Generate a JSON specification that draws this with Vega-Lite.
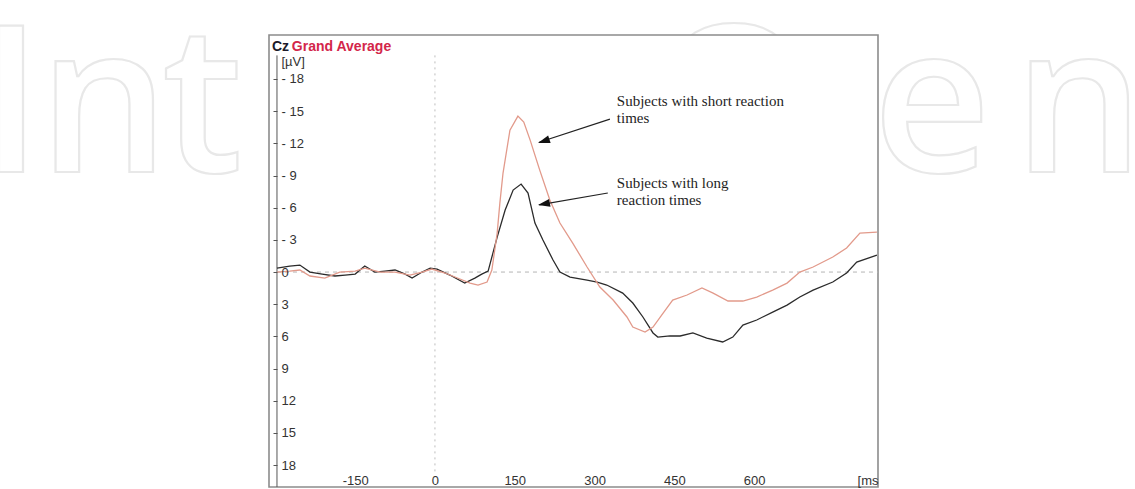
{
  "$schema": "https://vega.github.io/schema/vega-lite/v6.json",
  "width": 609,
  "height": 452,
  "autosize": {"type": "none"},
  "padding": {"left": 269, "top": 35, "right": 257, "bottom": 2},
  "background": "white",
  "config": {"view": {"stroke": null}, "font": "Liberation Sans"},
  "datasets": {
    "erp": [
      {"group": "long", "ms": -297, "uv": -0.37}, {"group": "long", "ms": -273, "uv": -0.56}, {"group": "long", "ms": -254, "uv": -0.65},
      {"group": "long", "ms": -235, "uv": 0}, {"group": "long", "ms": -212, "uv": 0.19}, {"group": "long", "ms": -188, "uv": 0.37},
      {"group": "long", "ms": -169, "uv": 0.28}, {"group": "long", "ms": -150, "uv": 0.19}, {"group": "long", "ms": -132, "uv": -0.56},
      {"group": "long", "ms": -113, "uv": 0}, {"group": "long", "ms": -94, "uv": -0.09}, {"group": "long", "ms": -75, "uv": -0.19},
      {"group": "long", "ms": -56, "uv": 0.19}, {"group": "long", "ms": -43, "uv": 0.56}, {"group": "long", "ms": -24, "uv": 0},
      {"group": "long", "ms": -9, "uv": -0.37}, {"group": "long", "ms": 4, "uv": -0.28}, {"group": "long", "ms": 28, "uv": 0.28},
      {"group": "long", "ms": 56, "uv": 1.03}, {"group": "long", "ms": 75, "uv": 0.56}, {"group": "long", "ms": 88, "uv": 0.19},
      {"group": "long", "ms": 100, "uv": -0.09}, {"group": "long", "ms": 117, "uv": -3.26}, {"group": "long", "ms": 132, "uv": -5.78},
      {"group": "long", "ms": 147, "uv": -7.64}, {"group": "long", "ms": 162, "uv": -8.2}, {"group": "long", "ms": 175, "uv": -7.36},
      {"group": "long", "ms": 188, "uv": -4.57}, {"group": "long", "ms": 203, "uv": -2.98}, {"group": "long", "ms": 222, "uv": -1.12},
      {"group": "long", "ms": 235, "uv": 0}, {"group": "long", "ms": 254, "uv": 0.47}, {"group": "long", "ms": 286, "uv": 0.75},
      {"group": "long", "ms": 305, "uv": 0.93}, {"group": "long", "ms": 323, "uv": 1.21}, {"group": "long", "ms": 353, "uv": 1.96},
      {"group": "long", "ms": 372, "uv": 2.89}, {"group": "long", "ms": 391, "uv": 4.19}, {"group": "long", "ms": 410, "uv": 5.68},
      {"group": "long", "ms": 419, "uv": 6.06}, {"group": "long", "ms": 442, "uv": 5.96}, {"group": "long", "ms": 461, "uv": 5.96},
      {"group": "long", "ms": 485, "uv": 5.68}, {"group": "long", "ms": 511, "uv": 6.15}, {"group": "long", "ms": 541, "uv": 6.52},
      {"group": "long", "ms": 560, "uv": 6.06}, {"group": "long", "ms": 579, "uv": 4.94}, {"group": "long", "ms": 605, "uv": 4.47},
      {"group": "long", "ms": 635, "uv": 3.73}, {"group": "long", "ms": 662, "uv": 3.08}, {"group": "long", "ms": 686, "uv": 2.33},
      {"group": "long", "ms": 711, "uv": 1.68}, {"group": "long", "ms": 748, "uv": 0.93}, {"group": "long", "ms": 774, "uv": 0.09},
      {"group": "long", "ms": 793, "uv": -0.93}, {"group": "long", "ms": 831, "uv": -1.58},
      {"group": "short", "ms": -297, "uv": 0}, {"group": "short", "ms": -273, "uv": -0.09}, {"group": "short", "ms": -254, "uv": -0.19},
      {"group": "short", "ms": -235, "uv": 0.37}, {"group": "short", "ms": -207, "uv": 0.56}, {"group": "short", "ms": -179, "uv": 0},
      {"group": "short", "ms": -150, "uv": -0.09}, {"group": "short", "ms": -132, "uv": -0.37}, {"group": "short", "ms": -103, "uv": 0},
      {"group": "short", "ms": -75, "uv": 0}, {"group": "short", "ms": -47, "uv": 0.28}, {"group": "short", "ms": -24, "uv": 0},
      {"group": "short", "ms": -6, "uv": -0.28}, {"group": "short", "ms": 19, "uv": 0.09}, {"group": "short", "ms": 47, "uv": 0.65},
      {"group": "short", "ms": 66, "uv": 1.03}, {"group": "short", "ms": 81, "uv": 1.21}, {"group": "short", "ms": 98, "uv": 0.93},
      {"group": "short", "ms": 107, "uv": -0.19}, {"group": "short", "ms": 117, "uv": -3.63}, {"group": "short", "ms": 122, "uv": -6.4},
      {"group": "short", "ms": 128, "uv": -9.23}, {"group": "short", "ms": 141, "uv": -13.23}, {"group": "short", "ms": 156, "uv": -14.54},
      {"group": "short", "ms": 167, "uv": -13.98}, {"group": "short", "ms": 179, "uv": -12.3}, {"group": "short", "ms": 197, "uv": -9.5},
      {"group": "short", "ms": 216, "uv": -6.71}, {"group": "short", "ms": 235, "uv": -4.57}, {"group": "short", "ms": 259, "uv": -2.7},
      {"group": "short", "ms": 286, "uv": -0.47}, {"group": "short", "ms": 310, "uv": 1.4}, {"group": "short", "ms": 335, "uv": 2.61},
      {"group": "short", "ms": 361, "uv": 4.19}, {"group": "short", "ms": 372, "uv": 5.13}, {"group": "short", "ms": 395, "uv": 5.59},
      {"group": "short", "ms": 410, "uv": 5.13}, {"group": "short", "ms": 429, "uv": 3.82}, {"group": "short", "ms": 447, "uv": 2.61},
      {"group": "short", "ms": 474, "uv": 2.14}, {"group": "short", "ms": 502, "uv": 1.49}, {"group": "short", "ms": 523, "uv": 1.96},
      {"group": "short", "ms": 551, "uv": 2.7}, {"group": "short", "ms": 579, "uv": 2.7}, {"group": "short", "ms": 605, "uv": 2.33},
      {"group": "short", "ms": 635, "uv": 1.68}, {"group": "short", "ms": 662, "uv": 1.03}, {"group": "short", "ms": 686, "uv": 0},
      {"group": "short", "ms": 711, "uv": -0.47}, {"group": "short", "ms": 748, "uv": -1.4}, {"group": "short", "ms": 774, "uv": -2.24},
      {"group": "short", "ms": 799, "uv": -3.63}, {"group": "short", "ms": 831, "uv": -3.73}
    ],
    "notes": [
      {"ms": 342, "uv": -15.94, "lines": ["Subjects with short reaction", "times"]},
      {"ms": 342, "uv": -8.3, "lines": ["Subjects with long", "reaction times"]}
    ],
    "arrows": [
      {"ms": 329, "uv": -14.26, "ms2": 196, "uv2": -12.1, "tipms": 193.7, "tipuv": -12.03, "angle": 252},
      {"ms": 325, "uv": -7.37, "ms2": 196, "uv2": -6.27, "tipms": 193.7, "tipuv": -6.25, "angle": 260}
    ],
    "watermark": [
      {"t": "I", "ms": -856, "uv": -9.32},
      {"t": "n", "ms": -745, "uv": -9.32},
      {"t": "t", "ms": -513, "uv": -9.32},
      {"t": "O", "ms": 410, "uv": -9.32},
      {"t": "e", "ms": 823, "uv": -9.32},
      {"t": "n", "ms": 1088, "uv": -9.32}
    ]
  },
  "layer": [
    {
      "data": {"name": "watermark"},
      "mark": {"type": "text", "font": "Open Sans", "fontSize": 205, "fontWeight": 600, "align": "left", "baseline": "alphabetic", "fill": "white", "stroke": "#e8e8e8", "strokeWidth": 2.2, "clip": false},
      "encoding": {
        "x": {"field": "ms", "type": "quantitative"},
        "y": {"field": "uv", "type": "quantitative"},
        "text": {"field": "t"}
      }
    },
    {
      "data": {"values": [{}]},
      "mark": {"type": "rect", "fill": "white", "stroke": "#8c8c8c", "strokeWidth": 1.6},
      "encoding": {
        "x": {"datum": -312, "type": "quantitative"},
        "x2": {"datum": 833},
        "y": {"datum": -22.1, "type": "quantitative"},
        "y2": {"datum": 20.04}
      }
    },
    {
      "data": {"values": [{}]},
      "mark": {"type": "rule", "color": "#b4b4b4", "strokeWidth": 1, "strokeDash": [4, 4]},
      "encoding": {
        "y": {"datum": 0, "type": "quantitative"},
        "x": {"datum": -297, "type": "quantitative"},
        "x2": {"datum": 833}
      }
    },
    {
      "data": {"values": [{}]},
      "mark": {"type": "rule", "color": "#bdbdbd", "strokeWidth": 1, "strokeDash": [2, 4]},
      "encoding": {
        "x": {"datum": 0, "type": "quantitative"},
        "y": {"datum": -20.2, "type": "quantitative"},
        "y2": {"datum": 18.6}
      }
    },
    {
      "data": {"values": [{}]},
      "mark": {"type": "rule", "color": "#555555", "strokeWidth": 1},
      "encoding": {
        "x": {"datum": -297, "type": "quantitative"},
        "y": {"datum": -20.2, "type": "quantitative"},
        "y2": {"datum": 20.04}
      }
    },
    {
      "data": {"name": "erp"},
      "mark": {"type": "line", "strokeWidth": 1.3, "interpolate": "linear"},
      "encoding": {
        "x": {
          "field": "ms", "type": "quantitative",
          "scale": {"domain": [-312, 833], "nice": false, "zero": false},
          "axis": {
            "zindex": 2, "tickCount": 20,
            "values": [-150, 0, 150, 300, 450, 600], "domain": false, "ticks": false, "grid": false,
            "labelOverlap": false,
            "labelExpr": "datum.value < 0 ? '-' + (-datum.value) : datum.label",
            "labelPadding": -3, "labelBaseline": "alphabetic", "labelFontSize": 13, "labelColor": "#333333", "labelFlush": false,
            "title": "[ms", "titleX": 609, "titleY": -3, "titleAlign": "right", "titleBaseline": "alphabetic",
            "titleFontWeight": "normal", "titleFontSize": 13, "titleColor": "#333333"
          }
        },
        "y": {
          "field": "uv", "type": "quantitative",
          "scale": {"domain": [-22.1, 20.04], "reverse": true, "nice": false, "zero": false},
          "axis": {
            "zindex": 2, "tickCount": 30,
            "values": [-18, -15, -12, -9, -6, -3, 0, 3, 6, 9, 12, 15, 18], "offset": -8, "domain": false, "grid": false,
            "labelOverlap": false,
            "tickSize": 4, "tickColor": "#555555", "labelAlign": "left", "labelPadding": -8, "labelBaseline": "middle",
            "labelFontSize": 13, "labelColor": "#333333",
            "labelExpr": "datum.value < 0 ? '- ' + (-datum.value) : datum.label",
            "title": "[µV]", "titleAngle": 0, "titleX": 4, "titleY": 30, "titleAlign": "left", "titleBaseline": "alphabetic",
            "titleFontWeight": "normal", "titleFontSize": 13, "titleColor": "#333333"
          }
        },
        "color": {"field": "group", "type": "nominal", "scale": {"domain": ["short", "long"], "range": ["#e29a8b", "#2b2b2b"]}, "legend": null}
      }
    },
    {
      "data": {"name": "arrows"},
      "mark": {"type": "rule", "color": "#222222", "strokeWidth": 1.2},
      "encoding": {
        "x": {"field": "ms", "type": "quantitative"},
        "y": {"field": "uv", "type": "quantitative"},
        "x2": {"field": "ms2"},
        "y2": {"field": "uv2"}
      }
    },
    {
      "data": {"name": "arrows"},
      "mark": {"type": "point", "shape": "M0,0L0.5,1.5L-0.5,1.5Z", "filled": true, "color": "#111111", "size": 256, "opacity": 1},
      "encoding": {
        "x": {"field": "tipms", "type": "quantitative"},
        "y": {"field": "tipuv", "type": "quantitative"},
        "angle": {"field": "angle", "type": "quantitative", "scale": null}
      }
    },
    {
      "data": {"name": "notes"},
      "mark": {"type": "text", "font": "Liberation Serif", "fontSize": 15, "lineHeight": 17, "align": "left", "baseline": "middle", "color": "#1e1e1e"},
      "encoding": {
        "x": {"field": "ms", "type": "quantitative"},
        "y": {"field": "uv", "type": "quantitative"},
        "text": {"field": "lines"}
      }
    },
    {
      "data": {"values": [{"t": "Cz", "ms": -306.5, "uv": -20.98}]},
      "mark": {"type": "text", "font": "Liberation Sans", "fontSize": 14, "fontWeight": "bold", "align": "left", "baseline": "middle", "color": "#1c1a2a"},
      "encoding": {
        "x": {"field": "ms", "type": "quantitative"},
        "y": {"field": "uv", "type": "quantitative"},
        "text": {"field": "t"}
      }
    },
    {
      "data": {"values": [{"t": "Grand Average", "ms": -269, "uv": -20.98}]},
      "mark": {"type": "text", "font": "Liberation Sans", "fontSize": 14, "fontWeight": "bold", "align": "left", "baseline": "middle", "color": "#d3264a"},
      "encoding": {
        "x": {"field": "ms", "type": "quantitative"},
        "y": {"field": "uv", "type": "quantitative"},
        "text": {"field": "t"}
      }
    }
  ]
}
